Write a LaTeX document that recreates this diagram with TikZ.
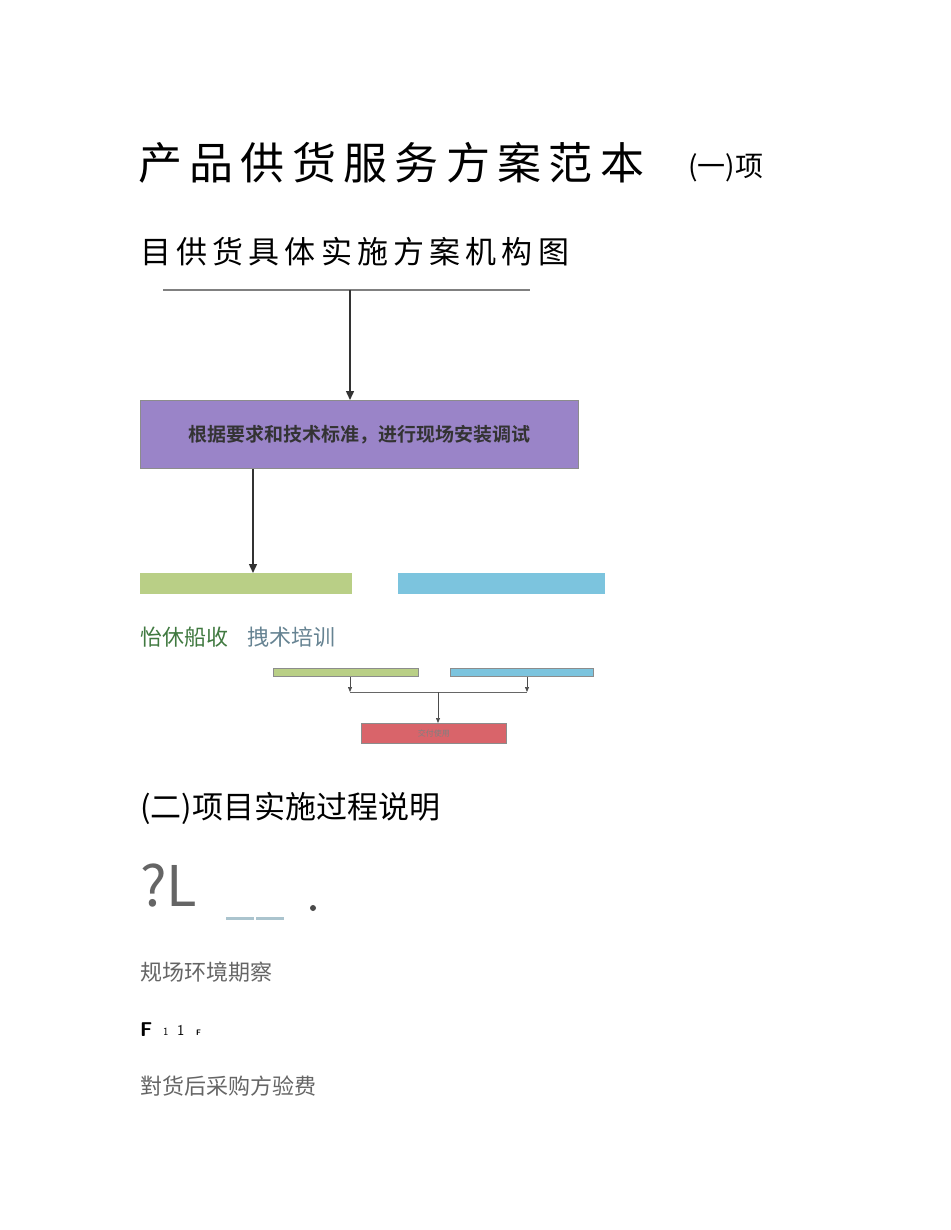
\documentclass[tikz,border=0pt]{standalone}
\usepackage{fontspec}
\newfontfamily\cjk{Noto Sans CJK SC}
\newfontfamily\cjkb{Noto Sans CJK SC Bold}
\usetikzlibrary{arrows.meta}
\definecolor{gtxt}{HTML}{4A4A4A}
\definecolor{pbox}{HTML}{9A84C8}
\definecolor{gbox}{HTML}{B9CF86}
\definecolor{bbox}{HTML}{7CC4DE}
\definecolor{rbox}{HTML}{D9646A}
\tikzset{
  arr/.style={draw=black!80, line width=1.4pt, -{Triangle[length=9pt,width=8pt]}},
  sarr/.style={draw=black!70, line width=0.7pt, -{Triangle[length=5pt,width=4pt]}},
  bx/.style={draw=black!45, line width=0.8pt, inner sep=0},
  lbl/.style={anchor=west, inner sep=0, font=\cjk},
}
\begin{document}
\begin{tikzpicture}[x=1pt,y=-1pt]
\useasboundingbox (0,0) rectangle (950,1230);
% headings
\node[lbl, font=\cjk\fontsize{44}{48}\selectfont] (t1) at (138,163) {产\,品\,供\,货\,服\,务\,方\,案\,范\,本};
\node[lbl, font=\cjk\fontsize{28}{30}\selectfont] (t1b) at (688,168) {(一)项};
\node[lbl, font=\cjk\fontsize{31}{34}\selectfont] (t2) at (140,252) {目\,供\,货\,具\,体\,实\,施\,方\,案\,机\,构\,图};
% top part of chart
\coordinate (tl) at (163,290); \coordinate (tr) at (530,290); \coordinate (tm) at (350,290);
\draw[black!50, line width=2pt] (tl) -- (tr);
\node[bx, fill=pbox, minimum width=438pt, minimum height=68pt, anchor=north west,
  font=\cjkb\fontsize{19}{20}\selectfont, text=black!80] (pb) at (140,400) {根据要求和技术标准，进行现场安装调试};
\draw[arr] (tm) -- (pb.north -| tm);
\node[fill=gbox, inner sep=0, minimum width=212pt, minimum height=21pt, anchor=north west] (gb) at (140,573) {};
\node[fill=bbox, inner sep=0, minimum width=207pt, minimum height=21pt, anchor=north west] (bb) at (398,573) {};
\draw[arr] (pb.south -| 253,0) -- (gb.north -| 253,0);
\node[lbl, font=\cjk\fontsize{22}{24}\selectfont, text=green!30!black!75] (ys) at (140,637) {怡休船收};
\node[lbl, font=\cjk\fontsize{22}{24}\selectfont, text=cyan!40!black!80] (js) at (247,637) {拽术培训};
% lower small chart
\node[bx, fill=gbox, minimum width=145pt, minimum height=8pt, anchor=north west] (sg) at (273,668) {};
\node[bx, fill=bbox, minimum width=143pt, minimum height=8pt, anchor=north west] (sb) at (450,668) {};
\node[bx, fill=rbox, minimum width=145pt, minimum height=20pt, anchor=north west,
  font=\cjk\fontsize{8}{9}\selectfont, text=black!50] (rb) at (361,723) {交付使用};
\coordinate (jl) at (350,692); \coordinate (jr) at (527,692); \coordinate (jm) at (438,692);
\draw[sarr] (sg.south -| jl) -- (jl);
\draw[sarr] (sb.south -| jr) -- (jr);
\draw[black!60, line width=0.7pt] (jl) -- (jr);
\draw[sarr] (jm) -- (rb.north -| jm);
% section 2
\node[lbl, font=\cjk\fontsize{31}{34}\selectfont] (s2) at (140,808) {(二)项目实施过程说明};
\node[lbl, font=\cjk\fontsize{56}{60}\selectfont, text=gtxt!85] (ql) at (140,886) {?L};
\coordinate (d1) at (226,918); \coordinate (d2) at (254,918); \coordinate (d3) at (256,918); \coordinate (d4) at (284,918);
\draw[cyan!30!gray!60, line width=3pt] (d1) -- (d2);
\draw[cyan!30!gray!60, line width=3pt] (d3) -- (d4);
\node[circle, fill=gtxt, inner sep=0, minimum size=6pt] (dot) at (313,908) {};
\node[lbl, font=\cjk\fontsize{22}{24}\selectfont, text=gtxt!85] (l1) at (140,972) {规场环境期察};
\node[lbl, font=\sffamily\bfseries\fontsize{20}{22}\selectfont] (f1) at (140,1030) {F};
\node[lbl, font=\sffamily\fontsize{11}{12}\selectfont] (f2) at (163,1032) {1};
\node[lbl, font=\sffamily\fontsize{15}{16}\selectfont] (f3) at (177,1030) {1};
\node[lbl, font=\sffamily\bfseries\fontsize{8}{9}\selectfont] (f4) at (196,1033) {F};
\node[lbl, font=\cjk\fontsize{22}{24}\selectfont, text=gtxt!85] (l2) at (140,1086) {對货后采购方验费};
\end{tikzpicture}
\end{document}
